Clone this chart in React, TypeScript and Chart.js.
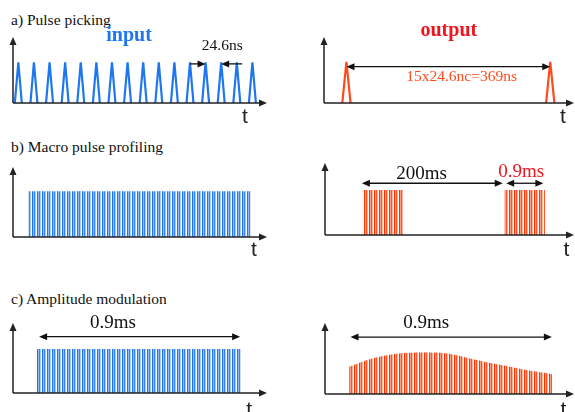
import React, { useEffect, useRef } from "react";
import { Chart, registerables } from "chart.js";
Chart.register(...registerables);

// ---------------- data ----------------
// a) pulse picking: bunch arrival times (ns)
const inputPulseTimesNs = [0, 24.6, 49.2, 73.8, 98.4, 123, 147.6, 172.2, 196.8, 221.4, 246, 270.6, 295.2, 319.8, 344.4, 369];
const outputPulseTimesNs = [0, 369];
const pulseAmplitude = 1;
// b) macro pulse profiling
const macroPulseTimesUs = [0, 900];
const macroPulseAmp = [1, 1];
const burstStartsMs = [0, 200];
const burstDrawnWidth = 57; // drawn width of a 0.9 ms burst (not to scale)
const burstAmp = [1, 1];
// c) amplitude modulation
const flatEnvTimesUs = [0, 900];
const flatEnvAmp = [1, 1];
const modEnvTimesUs = [0, 106, 180, 297, 370, 443, 531, 619, 693, 766, 840, 900];
const modEnvAmp = [0.62, 0.81, 0.89, 0.94, 0.94, 0.91, 0.81, 0.71, 0.64, 0.56, 0.5, 0.45];

const titles = ["a) Pulse picking", "b) Macro pulse profiling", "c) Amplitude modulation"];

// ---------------- styles ----------------
const BLUE = "#1f77f0";
const ORANGE = "#ff4a1c";
const RED = "#f0141e";
const INK = "#111";
const SERIF = "'Liberation Serif', 'Times New Roman', serif";
const SANS = "'Liberation Sans', Arial, sans-serif";
const BLUE_STRIPES = ["#1f74f0", "#90bcf6", "#3585f2", "#a9cbf8", "#ffffff"];
const RED_STRIPES = ["#ff3300", "#ff9c80", "#ff5528", "#ffb49e", "#ffffff"];

function makePattern(colors: string[]): CanvasPattern | string {
  const c = document.createElement("canvas");
  c.width = colors.length;
  c.height = 1;
  const g = c.getContext("2d")!;
  colors.forEach((col, i) => {
    g.fillStyle = col;
    g.fillRect(i, 0, 1, 1);
  });
  return g.createPattern(c, "repeat") || colors[0];
}

function pulseTrain(times: number[], amp: number, halfWidth: number) {
  const pts: any[] = [];
  times.forEach((t) => {
    pts.push({ x: t - halfWidth, y: 0 }, { x: t, y: amp }, { x: t + halfWidth, y: 0 }, { x: t + halfWidth, y: null });
  });
  return pts;
}

function envelope(xs: number[], ys: number[]) {
  return xs.map((x, i) => ({ x, y: ys[i] }));
}

type Ann =
  | { type: "text"; x: number; y: number; text: string; font: string; color: string }
  | { type: "arrow"; x1: number; x2: number; y: number; head1: boolean; head2: boolean };

type Cfg = {
  axisX: number;
  axisTop: number;
  tipX: number;
  baseY: number;
  xMin: number;
  xMax: number;
  yMax: number;
  datasets: () => any[];
  anns: Ann[];
  tX: number;
  tOffset: number;
};

function head(ctx: CanvasRenderingContext2D, x: number, y: number, dx: number, dy: number, len: number, hw: number) {
  ctx.beginPath();
  ctx.moveTo(x, y);
  ctx.lineTo(x - dx * len - dy * hw, y - dy * len + dx * hw);
  ctx.lineTo(x - dx * len + dy * hw, y - dy * len - dx * hw);
  ctx.closePath();
  ctx.fill();
}

function diagramPlugin(cfg: Cfg) {
  return {
    id: "diagram",
    afterDatasetsDraw(chart: any) {
      const ctx: CanvasRenderingContext2D = chart.ctx;
      const a = chart.chartArea;
      const xs = chart.scales.x;
      const ys = chart.scales.y;
      ctx.save();
      // axes
      ctx.strokeStyle = "#222";
      ctx.fillStyle = "#222";
      ctx.lineWidth = 1.5;
      ctx.beginPath();
      ctx.moveTo(a.left, a.bottom);
      ctx.lineTo(a.left, a.top + 4);
      ctx.moveTo(a.left, a.bottom);
      ctx.lineTo(a.right - 4, a.bottom);
      ctx.stroke();
      head(ctx, a.left, a.top, 0, -1, 8, 3.5);
      head(ctx, a.right, a.bottom, 1, 0, 8, 3.5);
      // t label
      ctx.font = `21px ${SANS}`;
      ctx.textAlign = "center";
      ctx.textBaseline = "alphabetic";
      ctx.fillStyle = "#222";
      ctx.fillText("t", xs.getPixelForValue(cfg.tX), a.bottom + cfg.tOffset);
      // annotations
      cfg.anns.forEach((an) => {
        if (an.type === "text") {
          ctx.font = an.font;
          ctx.fillStyle = an.color;
          ctx.textAlign = "center";
          ctx.fillText(an.text, xs.getPixelForValue(an.x), ys.getPixelForValue(an.y));
        } else {
          const x1 = xs.getPixelForValue(an.x1);
          const x2 = xs.getPixelForValue(an.x2);
          const y = ys.getPixelForValue(an.y);
          const dir = x2 > x1 ? 1 : -1;
          ctx.strokeStyle = INK;
          ctx.fillStyle = INK;
          ctx.lineWidth = 1.3;
          ctx.beginPath();
          ctx.moveTo(an.head1 ? x1 + dir * 5 : x1, y);
          ctx.lineTo(an.head2 ? x2 - dir * 5 : x2, y);
          ctx.stroke();
          if (an.head1) head(ctx, x1, y, -dir, 0, 8, 3.5);
          if (an.head2) head(ctx, x2, y, dir, 0, 8, 3.5);
        }
      });
      ctx.restore();
    },
  };
}

const PAD_L = 6, PAD_R = 6, PAD_T = 36, PAD_B = 26;

function Panel({ cfg }: { cfg: Cfg }) {
  const ref = useRef<HTMLCanvasElement>(null);
  const w = cfg.tipX - cfg.axisX + PAD_L + PAD_R;
  const h = cfg.baseY - cfg.axisTop + PAD_T + PAD_B;
  useEffect(() => {
    const chart = new Chart(ref.current!, {
      type: "line",
      data: { datasets: cfg.datasets() },
      options: {
        responsive: false,
        animation: false,
        devicePixelRatio: 1,
        events: [],
        layout: { padding: { left: PAD_L, right: PAD_R, top: PAD_T, bottom: PAD_B } },
        plugins: { legend: { display: false }, tooltip: { enabled: false }, title: { display: false } },
        elements: { point: { radius: 0 } },
        scales: {
          x: { type: "linear", display: false, min: cfg.xMin, max: cfg.xMax },
          y: { type: "linear", display: false, min: 0, max: cfg.yMax },
        },
      } as any,
      plugins: [diagramPlugin(cfg) as any],
    });
    return () => chart.destroy();
  }, []);
  return (
    <canvas
      ref={ref}
      width={w}
      height={h}
      style={{ position: "absolute", left: cfg.axisX - PAD_L, top: cfg.axisTop - PAD_T, width: w, height: h }}
    />
  );
}

const annFont = `15.5px ${SERIF}`;
const bigFont = `19px ${SERIF}`;
const boldFont = `bold 20px ${SERIF}`;

const panels: Cfg[] = [
  {
    axisX: 13, axisTop: 37, tipX: 267, baseY: 103, xMin: -8.4, xMax: 392, yMax: 1.62,
    datasets: () => [
      { data: pulseTrain(inputPulseTimesNs, pulseAmplitude, 5.5), borderColor: BLUE, borderWidth: 2.2, fill: false, spanGaps: false, tension: 0 },
    ],
    anns: [
      { type: "text", x: 174.6, y: 1.52, text: "input", font: boldFont, color: BLUE },
      { type: "text", x: 321.4, y: 1.3, text: "24.6ns", font: annFont, color: INK },
      { type: "arrow", x1: 270.6, x2: 295.2, y: 0.96, head1: false, head2: true },
      { type: "arrow", x1: 352.8, x2: 319.8, y: 0.96, head1: false, head2: true },
    ],
    tX: 357, tOffset: 20,
  },
  {
    axisX: 324, axisTop: 37, tipX: 574, baseY: 103, xMin: -40.6, xMax: 412, yMax: 1.6,
    datasets: () => [
      { data: pulseTrain(outputPulseTimesNs, pulseAmplitude, 7.5), borderColor: ORANGE, borderWidth: 2.2, fill: false, spanGaps: false, tension: 0 },
    ],
    anns: [
      { type: "text", x: 185.4, y: 1.63, text: "output", font: boldFont, color: RED },
      { type: "arrow", x1: outputPulseTimesNs[0], x2: outputPulseTimesNs[1], y: 0.88, head1: true, head2: true },
      { type: "text", x: 208.4, y: 0.54, text: "15x24.6nc=369ns", font: annFont, color: ORANGE },
    ],
    tX: 392, tOffset: 20,
  },
  {
    axisX: 13, axisTop: 167, tipX: 267, baseY: 237, xMin: -62, xMax: 966, yMax: 1.53,
    datasets: () => [
      { data: envelope(macroPulseTimesUs, macroPulseAmp), borderWidth: 0, fill: "origin", backgroundColor: makePattern(BLUE_STRIPES), tension: 0 },
    ],
    anns: [],
    tX: 913, tOffset: 19,
  },
  {
    axisX: 325, axisTop: 163, tipX: 574, baseY: 235, xMin: -53, xMax: 298, yMax: 1.6,
    datasets: () =>
      burstStartsMs.map((s) => ({
        data: envelope([s, s + burstDrawnWidth], burstAmp),
        borderWidth: 0,
        fill: "origin",
        backgroundColor: makePattern(RED_STRIPES),
        tension: 0,
      })),
    anns: [
      { type: "text", x: 83, y: 1.24, text: "200ms", font: bigFont, color: INK },
      { type: "arrow", x1: -1, x2: 197.6, y: 1.15, head1: true, head2: true },
      { type: "text", x: 223.5, y: 1.29, text: "0.9ms", font: bigFont, color: RED },
      { type: "arrow", x1: 202.4, x2: 254.8, y: 1.15, head1: true, head2: true },
    ],
    tX: 287.4, tOffset: 21,
  },
  {
    axisX: 13, axisTop: 323, tipX: 267, baseY: 393, xMin: -99.6, xMax: 1015, yMax: 1.59,
    datasets: () => [
      { data: envelope(flatEnvTimesUs, flatEnvAmp), borderWidth: 0, fill: "origin", backgroundColor: makePattern(BLUE_STRIPES), tension: 0 },
    ],
    anns: [
      { type: "text", x: 339, y: 1.48, text: "0.9ms", font: bigFont, color: INK },
      { type: "arrow", x1: 15, x2: 897, y: 1.28, head1: true, head2: true },
    ],
    tX: 937, tOffset: 23,
  },
  {
    axisX: 325, axisTop: 323, tipX: 574, baseY: 394, xMin: -107, xMax: 996, yMax: 1.61,
    datasets: () => [
      {
        data: envelope(modEnvTimesUs, modEnvAmp),
        borderWidth: 0,
        fill: "origin",
        backgroundColor: makePattern(RED_STRIPES),
        cubicInterpolationMode: "monotone",
      },
    ],
    anns: [
      { type: "text", x: 341, y: 1.5, text: "0.9ms", font: bigFont, color: INK },
      { type: "arrow", x1: 6, x2: 898, y: 1.29, head1: true, head2: true },
    ],
    tX: 949, tOffset: 22,
  },
];

const titleTops = [12, 139, 290.5];

export default function App() {
  return (
    <div
      style={{
        position: "fixed",
        left: 0,
        top: 0,
        width: 575,
        height: 412,
        overflow: "hidden",
        background: "#fff",
      }}
    >
      {titles.map((t, i) => (
        <div
          key={t}
          style={{
            position: "absolute",
            left: 11,
            top: titleTops[i],
            fontFamily: SERIF,
            fontSize: "15.5px",
            lineHeight: "15.5px",
            color: "#111",
            whiteSpace: "nowrap",
          }}
        >
          {t}
        </div>
      ))}
      {panels.map((p, i) => (
        <Panel key={i} cfg={p} />
      ))}
    </div>
  );
}
